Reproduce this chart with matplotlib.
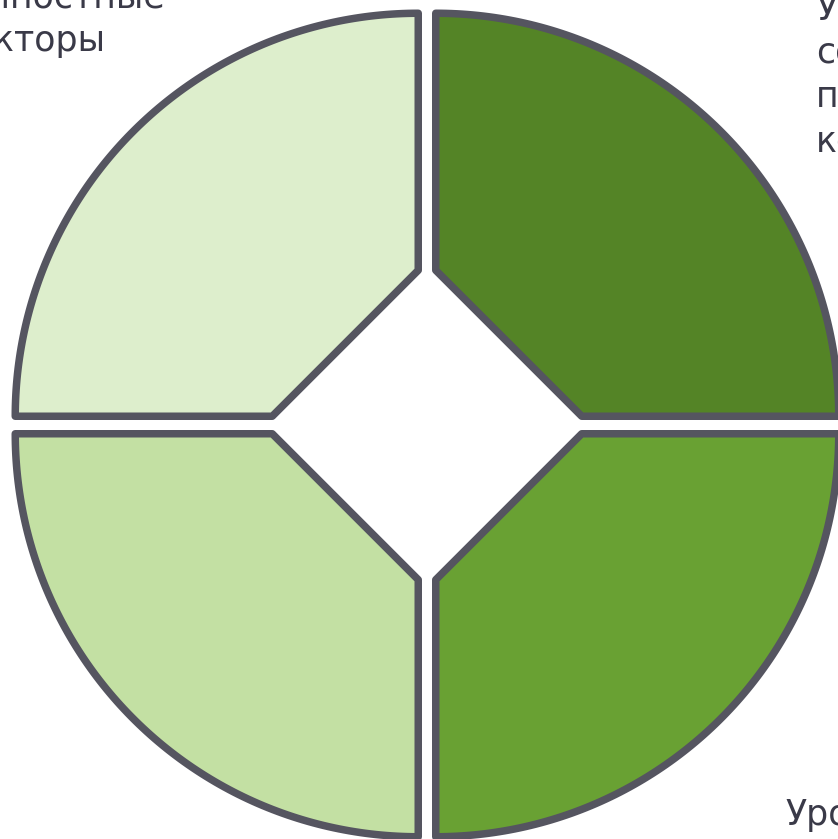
import numpy as np
import matplotlib
matplotlib.use("Agg")
import matplotlib.pyplot as plt
from matplotlib.patches import Polygon

# quadrant order: top-right, bottom-right, bottom-left, top-left
segments = ["TR", "BR", "BL", "TL"]
start_angles = [0, 270, 180, 90]
seg_colors = ["#548426", "#69a133", "#c3e0a3", "#ddeecc"]
edge_color = "#555560"

# labels (mostly fall outside the canvas, as in the original)
label_lines = [
    ["Условия", "социальной", "поддержки", "коллектива"],
    ["Уровень", "стресса"],
    [],
    ["Личностные", "факторы"],
]
label_pos = [(816, 19), (785, 825), (0, 0), (-58, 7)]

W, H = 838, 839
cx, cy = 427, 425
R = 403
gap = 8.75
cut = 146
line_step = 44

fig = plt.figure(figsize=(W / 100, H / 100), dpi=100)
ax = fig.add_axes([0, 0, 1, 1])
ax.set_xlim(0, W)
ax.set_ylim(H, 0)
ax.axis("off")


def direction(deg):
    t = np.radians(deg)
    return np.array([np.cos(t), -np.sin(t)])


for name, a0, col in zip(segments, start_angles, seg_colors):
    mid = direction(a0 + 45) * np.sqrt(2)
    corner = np.array([cx, cy]) + gap * mid
    t = np.linspace(a0, a0 + 90, 120)
    arc = corner + R * np.column_stack([np.cos(np.radians(t)), -np.sin(np.radians(t))])
    pts = np.vstack([arc,
                     corner + cut * direction(a0 + 90),
                     corner + cut * direction(a0)])
    ax.add_patch(Polygon(pts, closed=True, facecolor=col, edgecolor=edge_color,
                         linewidth=5.4, joinstyle="round"))

for lines, (x0, y0) in zip(label_lines, label_pos):
    for i, s in enumerate(lines):
        ax.text(x0, y0 + i * line_step, s, fontsize=25, color="#3a3a48",
                ha="left", va="baseline", family="DejaVu Sans", clip_on=False)

fig.savefig("out.png", dpi=100)
